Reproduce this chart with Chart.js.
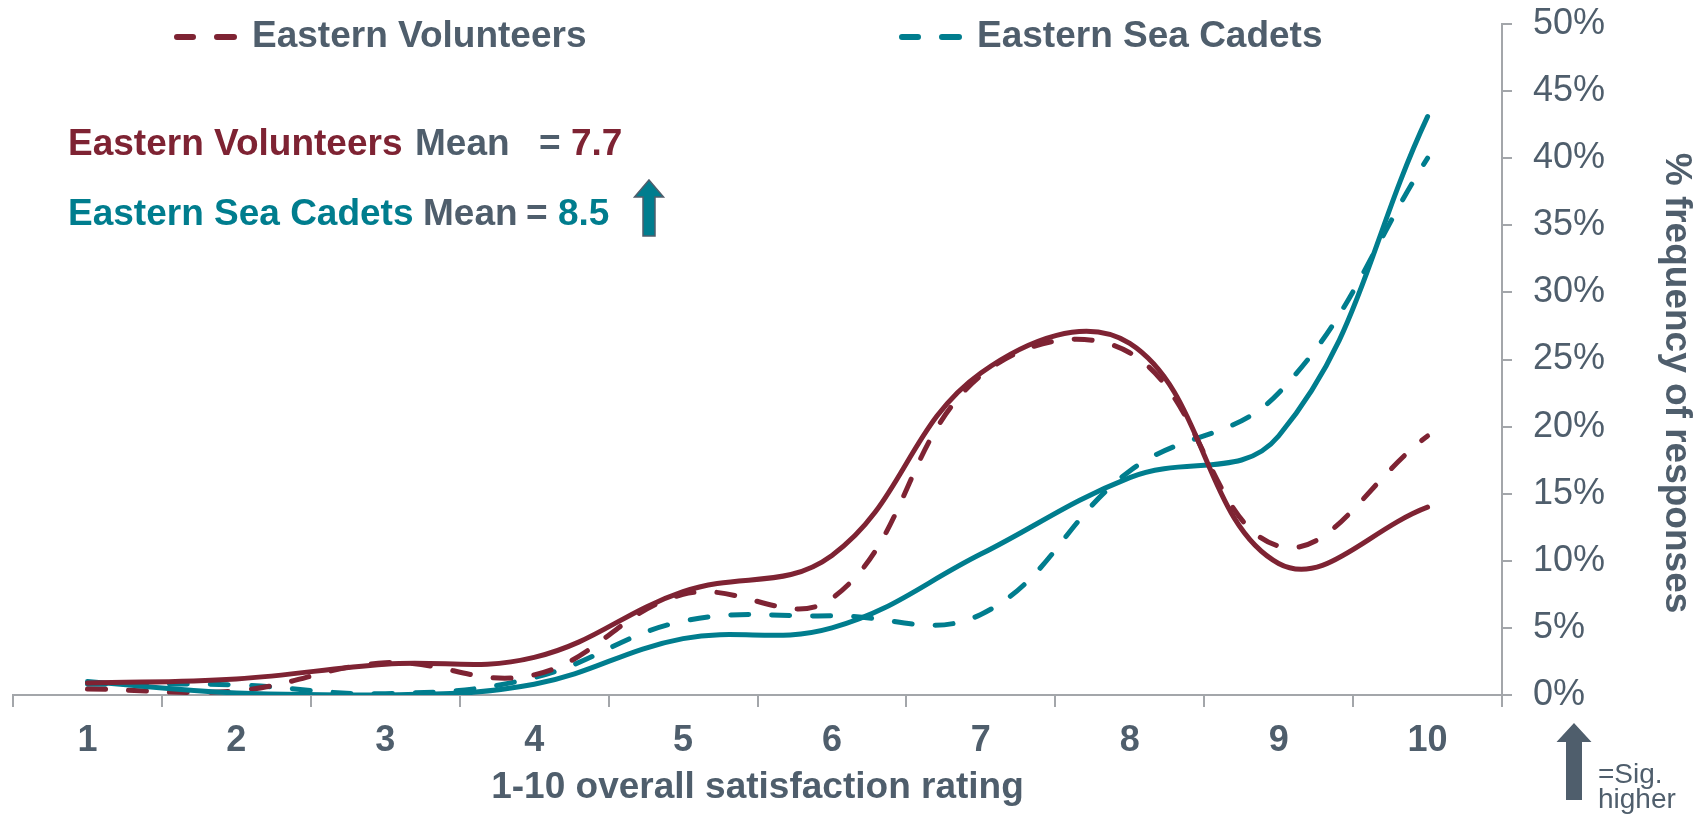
<!DOCTYPE html>
<html>
<head>
<meta charset="utf-8">
<title>1-10 overall satisfaction rating</title>
<script src="https://cdn.jsdelivr.net/npm/chart.js@4.4.1/dist/chart.umd.min.js"></script>
<style>
    html, body { margin: 0; padding: 0; background: #ffffff; }
    #chartWrap { position: relative; width: 1703px; height: 817px; }
</style>
</head>
<body>
<div id="chartWrap"><canvas id="satisfactionChart"></canvas></div>
<script>
// rating categories (x axis)
const categories = ['1', '2', '3', '4', '5', '6', '7', '8', '9', '10'];

// % frequency of responses
const volunteersDashed = [0.45, 0.3, 2.4, 1.5, 7.5, 7.2, 23.8, 25.5, 11.1, 19.3];
const volunteersSolid  = [0.9, 1.2, 2.3, 2.8, 7.7, 10.4, 24.0, 26.2, 9.8, 14.0];
const cadetsDashed     = [0.8, 0.75, 0.1, 1.3, 5.5, 5.9, 6.0, 16.7, 22.5, 40.0];
const cadetsSolid      = [1.0, 0.15, 0.0, 0.8, 4.2, 5.0, 10.5, 16.2, 19.3, 43.1];

// y axis ticks
const yMin = 0;
const yMax = 50;
const yStep = 5;

// legend / mean texts
const legendNames = ['Eastern Volunteers', 'Eastern Sea Cadets'];
const meanValues = ['7.7', '8.5'];

const RED = '#7e2333';
const TEAL = '#007d8e';
const GRAY = '#4f5e6c';
const AXIS = '#a3a6aa';
const FONT = '"Liberation Sans", Arial, Helvetica, sans-serif';

document.addEventListener('DOMContentLoaded', function() {
    initializeChart();
});

// simple up arrow (head + shaft)
function drawArrow(ctx, cx, top, bottom, headW, headH, shaftW, fill, stroke) {
    ctx.beginPath();
    ctx.moveTo(cx, top);
    ctx.lineTo(cx + headW / 2, top + headH);
    ctx.lineTo(cx + shaftW / 2, top + headH);
    ctx.lineTo(cx + shaftW / 2, bottom);
    ctx.lineTo(cx - shaftW / 2, bottom);
    ctx.lineTo(cx - shaftW / 2, top + headH);
    ctx.lineTo(cx - headW / 2, top + headH);
    ctx.closePath();
    ctx.fillStyle = fill;
    ctx.fill();
    if (stroke) {
        ctx.lineWidth = 1.5;
        ctx.strokeStyle = stroke;
        ctx.stroke();
    }
}

function drawLegendItem(ctx, x, y, color, text) {
    ctx.strokeStyle = color;
    ctx.lineWidth = 6;
    ctx.lineCap = 'round';
    ctx.beginPath();
    ctx.moveTo(x + 3, y); ctx.lineTo(x + 19, y);
    ctx.moveTo(x + 43, y); ctx.lineTo(x + 60, y);
    ctx.stroke();
    ctx.fillStyle = GRAY;
    ctx.font = 'bold 37px ' + FONT;
    ctx.textAlign = 'left';
    ctx.textBaseline = 'middle';
    ctx.fillText(text, x + 78, y);
}

// texts and arrows that are not part of the axes
const annotationPlugin = {
    id: 'annotations',
    afterDraw(chart) {
        const ctx = chart.ctx;
        ctx.save();

        // legend
        drawLegendItem(ctx, 174, 37, RED, legendNames[0]);
        drawLegendItem(ctx, 899, 37, TEAL, legendNames[1]);

        // mean lines
        ctx.font = 'bold 37px ' + FONT;
        ctx.textAlign = 'left';
        ctx.textBaseline = 'middle';
        ctx.fillStyle = RED;  ctx.fillText(legendNames[0], 68, 145);
        ctx.fillStyle = GRAY; ctx.fillText('Mean', 415, 145);
        ctx.fillStyle = GRAY; ctx.fillText('=', 539, 145);
        ctx.fillStyle = RED;  ctx.fillText(meanValues[0], 571, 145);

        ctx.fillStyle = TEAL; ctx.fillText(legendNames[1], 68, 215);
        ctx.fillStyle = GRAY; ctx.fillText('Mean', 423, 215);
        ctx.fillStyle = GRAY; ctx.fillText('=', 526, 215);
        ctx.fillStyle = TEAL; ctx.fillText(meanValues[1], 558, 215);

        drawArrow(ctx, 649, 180, 236, 29, 17, 12, TEAL, GRAY);

        // y axis title (rotated, reads top to bottom)
        ctx.save();
        ctx.translate(1676, 383);
        ctx.rotate(Math.PI / 2);
        ctx.textAlign = 'center';
        ctx.textBaseline = 'middle';
        ctx.fillStyle = GRAY;
        ctx.font = 'bold 37px ' + FONT;
        ctx.fillText('% frequency of responses', 0, 0);
        ctx.restore();

        // significance key
        drawArrow(ctx, 1574, 723, 800, 35, 19, 16, GRAY, null);
        ctx.fillStyle = GRAY;
        ctx.font = '28px ' + FONT;
        ctx.textAlign = 'left';
        ctx.textBaseline = 'alphabetic';
        ctx.fillText('=Sig.', 1598, 783);
        ctx.fillText('higher', 1598, 808);

        ctx.restore();
    }
};

function lineDataset(label, data, color, dashed) {
    return {
        label: label,
        data: data,
        borderColor: color,
        backgroundColor: color,
        borderWidth: 5,
        borderDash: dashed ? [18, 23] : [],
        borderCapStyle: 'round',
        borderJoinStyle: 'round',
        pointRadius: 0,
        pointHoverRadius: 0,
        tension: 0.4,
        fill: false
    };
}

function initializeChart() {
    const chart = new Chart(document.getElementById('satisfactionChart'), {
        type: 'line',
        data: {
            labels: categories,
            datasets: [
                lineDataset('Eastern Volunteers (solid)', volunteersSolid, RED, false),
                lineDataset('Eastern Sea Cadets (solid)', cadetsSolid, TEAL, false),
                lineDataset('Eastern Volunteers', volunteersDashed, RED, true),
                lineDataset('Eastern Sea Cadets', cadetsDashed, TEAL, true)
            ]
        },
        options: {
            responsive: true,
            maintainAspectRatio: false,
            devicePixelRatio: 1,
            animation: false,
            layout: {
                padding: { top: 24, left: 13, right: 0, bottom: 0 }
            },
            plugins: {
                legend: { display: false },
                tooltip: { enabled: false }
            },
            scales: {
                x: {
                    type: 'category',
                    offset: true,
                    grid: {
                        offset: true,
                        drawOnChartArea: false,
                        drawTicks: true,
                        tickLength: 12,
                        color: AXIS,
                        lineWidth: 2
                    },
                    border: { display: true, color: AXIS, width: 2 },
                    ticks: {
                        color: GRAY,
                        font: { family: FONT, size: 36, weight: 'bold' },
                        padding: 12,
                        maxRotation: 0,
                        autoSkip: false
                    },
                    title: {
                        display: true,
                        text: '1-10 overall satisfaction rating',
                        color: GRAY,
                        font: { family: FONT, size: 37, weight: 'bold' },
                        padding: { top: 0, bottom: 7 }
                    },
                    afterFit: function(scale) {
                        scale.height = 122;
                        scale.paddingLeft = 0;
                        scale.paddingRight = 0;
                    }
                },
                y: {
                    position: 'right',
                    min: yMin,
                    max: yMax,
                    grid: {
                        drawOnChartArea: false,
                        drawTicks: true,
                        tickLength: 10,
                        color: AXIS,
                        lineWidth: 2
                    },
                    border: { display: true, color: AXIS, width: 2 },
                    ticks: {
                        stepSize: yStep,
                        color: GRAY,
                        font: { family: FONT, size: 36 },
                        padding: 21,
                        callback: v => v + '%'
                    },
                    afterFit: function(scale) {
                        scale.width = 201;
                        scale.paddingTop = 0;
                        scale.paddingBottom = 0;
                    }
                }
            }
        },
        plugins: [annotationPlugin]
    });
    return chart;
}
</script>
</body>
</html>
